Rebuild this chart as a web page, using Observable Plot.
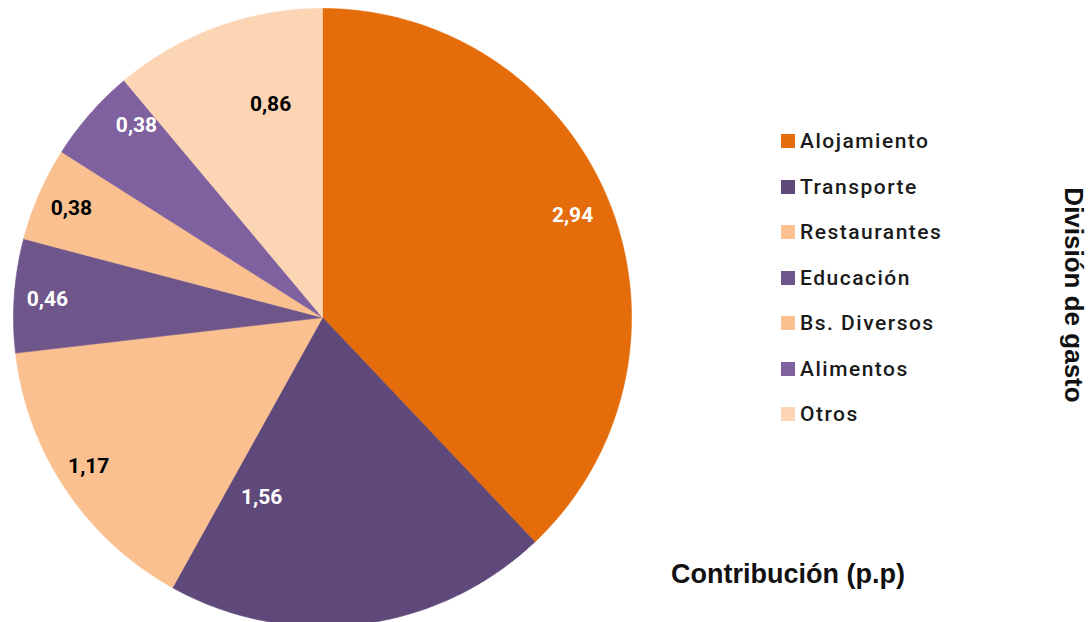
<!DOCTYPE html>
<html>
<head>
<meta charset="utf-8">
<script src="https://cdn.jsdelivr.net/npm/d3@7"></script>
<script src="https://cdn.jsdelivr.net/npm/@observablehq/plot@0.6"></script>
<style>
  html, body { margin: 0; padding: 0; background: #fff; }
  #wrap { position: relative; width: 1091px; height: 622px; overflow: hidden; }
  #legend { position: absolute; left: 781px; top: 0; font-family: Roboto, sans-serif; font-weight: 500; font-size: 21px; letter-spacing: 1.5px; color: #1a1a1a; }
  .li { position: absolute; left: 0; display: flex; align-items: center; white-space: nowrap; transform: translateY(-50%); }
  .sw { width: 14px; height: 14px; margin-right: 5px; flex: none; }
  .axt { position: absolute; font-family: "Liberation Sans", Arial, sans-serif; font-weight: bold; font-size: 26px; color: #111; white-space: nowrap; }
</style>
</head>
<body>
<div id="wrap"></div>
<script>
// ---- data ----
const categories = ["Alojamiento", "Transporte", "Restaurantes", "Educación", "Bs. Diversos", "Alimentos", "Otros"];
const contributions = [2.94, 1.56, 1.17, 0.46, 0.38, 0.38, 0.86];

// ---- style / layout ----
const sliceColors = ["#E46C0A", "#5F497A", "#FAC090", "#6E568B", "#FAC090", "#7F61A0", "#FCD5B5"];
const labelInk = ["#ffffff", "#ffffff", "#000000", "#ffffff", "#000000", "#ffffff", "#000000"];
// label placement (polar, like the spreadsheet's "best fit"): angle clockwise from 12 o'clock, radius as share of pie radius
const labelAngleDeg = [67.8, 198.7, 237.5, 273.7, 293.5, 315.9, 346.3];
const labelRadius = [0.874, 0.615, 0.897, 0.892, 0.886, 0.865, 0.71];

const total = d3.sum(contributions);
const slices = [];
const labels = [];
let acc = 0;
categories.forEach((cat, i) => {
  const a0 = acc / total * 2 * Math.PI;
  acc += contributions[i];
  const a1 = acc / total * 2 * Math.PI;
  const n = Math.max(2, Math.ceil((a1 - a0) / (Math.PI / 360)));
  slices.push({cat, x: 0, y: 0});
  for (let k = 0; k <= n; k++) {
    const a = a0 + (a1 - a0) * k / n;
    slices.push({cat, x: Math.sin(a), y: Math.cos(a)});
  }
  slices.push({cat, x: 0, y: 0});
  const am = labelAngleDeg[i] * Math.PI / 180;
  labels.push({
    cat,
    x: labelRadius[i] * Math.sin(am),
    y: labelRadius[i] * Math.cos(am),
    text: contributions[i].toFixed(2).replace(".", ","),
    ink: labelInk[i]
  });
});

const chart = Plot.plot({
  width: 1091,
  height: 622,
  margin: 0,
  x: {domain: [-1, 1], range: [13, 631], axis: null},
  y: {domain: [-1, 1], range: [626, 8], axis: null},
  color: {domain: categories, range: sliceColors},
  style: {background: "transparent"},
  marks: [
    Plot.line(slices, {x: "x", y: "y", z: "cat", fill: "cat", stroke: "cat", strokeWidth: 0.6, curve: "linear"}),
    Plot.text(labels.filter(d => d.ink === "#ffffff"), {x: "x", y: "y", text: "text", fill: "#ffffff", fontSize: 21, fontWeight: "bold", fontFamily: "Roboto, sans-serif"}),
    Plot.text(labels.filter(d => d.ink !== "#ffffff"), {x: "x", y: "y", text: "text", fill: "#000000", fontSize: 21, fontWeight: "bold", fontFamily: "Roboto, sans-serif"})
  ]
});

const wrap = document.getElementById("wrap");
wrap.appendChild(chart);

// legend
const legend = document.createElement("div");
legend.id = "legend";
const rowY0 = 141, rowStep = 45.5;
categories.forEach((cat, i) => {
  const row = document.createElement("div");
  row.className = "li";
  row.style.top = (rowY0 + i * rowStep) + "px";
  const sw = document.createElement("span");
  sw.className = "sw";
  sw.style.background = sliceColors[i];
  const tx = document.createElement("span");
  tx.textContent = cat;
  row.appendChild(sw);
  row.appendChild(tx);
  legend.appendChild(row);
});
wrap.appendChild(legend);

// axis-like titles
const xt = document.createElement("div");
xt.className = "axt";
xt.textContent = "Contribución (p.p)";
xt.style.left = "788px";
xt.style.top = "574px";
xt.style.fontSize = "27px";
xt.style.transform = "translate(-50%, -50%)";
wrap.appendChild(xt);

const yt = document.createElement("div");
yt.className = "axt";
yt.textContent = "División de gasto";
yt.style.left = "1073px";
yt.style.top = "295px";
yt.style.transform = "translate(-50%, -50%) rotate(90deg)";
wrap.appendChild(yt);
</script>
</body>
</html>
